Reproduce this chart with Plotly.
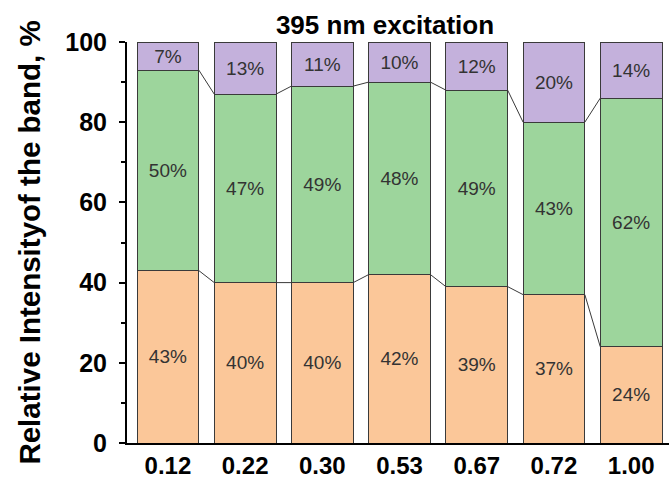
import plotly.graph_objects as go

categories = ["0.12", "0.22", "0.30", "0.53", "0.67", "0.72", "1.00"]
orange_vals = [43, 40, 40, 42, 39, 37, 24]
green_vals = [50, 47, 49, 48, 49, 43, 62]
purple_vals = [7, 13, 11, 10, 12, 20, 14]

colors = {"orange": "#FBC799", "green": "#9DD59C", "purple": "#C4B1DC"}
idx = list(range(len(categories)))
bar_w = 0.8

fig = go.Figure()
for vals, col in [(orange_vals, colors["orange"]), (green_vals, colors["green"]), (purple_vals, colors["purple"])]:
    fig.add_trace(go.Bar(
        x=idx, y=vals, width=bar_w,
        marker=dict(color=col, line=dict(color="#3a3a3a", width=1)),
        text=[f"{v}%" for v in vals], textposition="inside", insidetextanchor="middle",
        textangle=0, textfont=dict(family="Liberation Sans, Arial", size=19, color="#333333"),
        showlegend=False, hoverinfo="skip",
    ))

# connecting lines between cumulative levels
level1 = orange_vals
level2 = [o + g for o, g in zip(orange_vals, green_vals)]
for lev in (level1, level2):
    xs, ys = [], []
    for i in range(len(idx) - 1):
        xs += [idx[i] + bar_w / 2, idx[i + 1] - bar_w / 2, None]
        ys += [lev[i], lev[i + 1], None]
    fig.add_trace(go.Scatter(x=xs, y=ys, mode="lines", line=dict(color="#3a3a3a", width=1),
                             showlegend=False, hoverinfo="skip"))

fig.update_layout(
    barmode="stack",
    width=669, height=479,
    margin=dict(l=127, r=0, t=42, b=34),
    plot_bgcolor="white", paper_bgcolor="white",
    font=dict(family="Liberation Sans, Arial", color="black"),
    uniformtext=dict(minsize=19, mode="show"),
    title=dict(text="<b>395 nm excitation</b>", x=0.5755, xanchor="center", y=0.947, yanchor="middle",
               font=dict(size=26, color="black")),
)
fig.update_xaxes(
    range=[-0.53, 6.49], tickmode="array", tickvals=idx, ticktext=[f"<b>{c}</b>" for c in categories],
    tickfont=dict(size=24, color="black"), showline=True, linecolor="black", linewidth=2,
    ticks="", showgrid=False, zeroline=False,
)
fig.update_yaxes(
    range=[0, 100], tickmode="array", tickvals=[0, 20, 40, 60, 80, 100],
    ticktext=["<b>0</b>", "<b>20</b>", "<b>40</b>", "<b>60</b>", "<b>80</b>", "<b>100</b>"],
    tickfont=dict(size=25, color="black"), showline=True, linecolor="black", linewidth=2,
    ticks="outside", ticklen=6, tickwidth=2, tickcolor="black", ticklabelstandoff=7,
    minor=dict(tickvals=[10, 30, 50, 70, 90], ticks="outside", ticklen=4, tickwidth=2, tickcolor="black"),
    showgrid=False, zeroline=False,
    title=dict(text="<b>Relative Intensityof the band, %</b>", font=dict(size=29.5, color="black"), standoff=16),
)

fig.write_html("out.html")
